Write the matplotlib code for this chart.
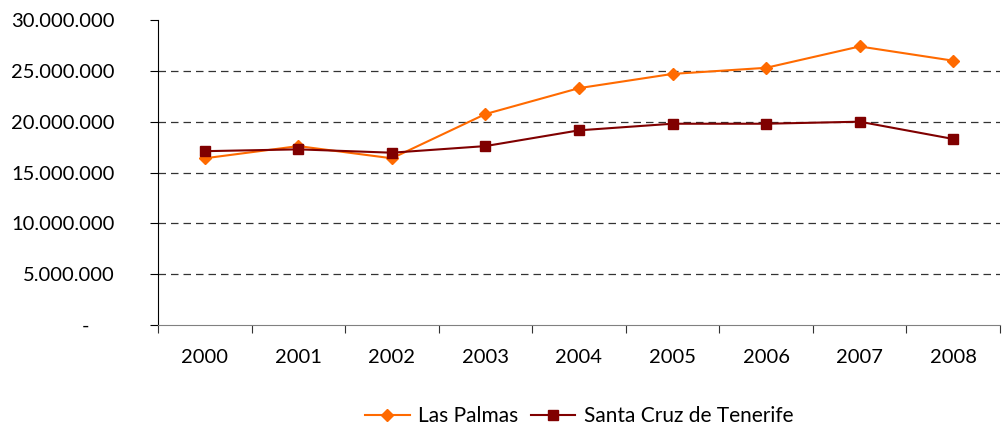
import numpy as np
import matplotlib.pyplot as plt
from matplotlib.ticker import FuncFormatter, FixedLocator

plt.rcParams['font.family'] = ['Lato', 'DejaVu Sans']

years = ['2000', '2001', '2002', '2003', '2004', '2005', '2006', '2007', '2008']
las_palmas = [16.4e6, 17.6e6, 16.4e6, 20.75e6, 23.3e6, 24.7e6, 25.3e6, 27.4e6, 26.0e6]
santa_cruz = [17.1e6, 17.28e6, 16.95e6, 17.6e6, 19.15e6, 19.8e6, 19.8e6, 20.0e6, 18.3e6]

def fmt(v, pos):
    if v == 0:
        return '-' + ' ' * 5
    return '{:,.0f}'.format(v).replace(',', '.')

fig = plt.figure(figsize=(10.03, 4.26), dpi=100)
ax = fig.add_axes([0.1575, 0.237, 0.997 - 0.1575, 0.953 - 0.237])

x = np.arange(len(years))
ax.plot(x, las_palmas, color='#FF6A00', marker='D', markersize=6, lw=1.5, label='Las Palmas')
ax.plot(x, santa_cruz, color='#800000', marker='s', markersize=7, lw=1.5, label='Santa Cruz de Tenerife')

ax.set_xlim(-0.5, len(years) - 0.5)
ax.set_ylim(0, 30e6)
ax.set_yticks(np.arange(0, 30e6 + 1, 5e6))
ax.yaxis.set_major_formatter(FuncFormatter(fmt))
for yv in np.arange(5e6, 30e6, 5e6):
    ax.axhline(yv, color='#333333', lw=0.9, ls=(0, (6, 4)), zorder=0)

ax.xaxis.set_major_locator(FixedLocator(np.arange(-0.5, len(years), 1.0)))
ax.xaxis.set_minor_locator(FixedLocator(x))
ax.set_xticklabels([], minor=False)
ax.set_xticklabels(years, minor=True)
ax.tick_params(axis='x', which='major', length=6, color='#333333')
ax.tick_params(axis='x', which='minor', length=0, pad=17, labelsize=14.5)
ax.tick_params(axis='y', length=6, labelsize=14.5, pad=25)

for s in ['top', 'right']:
    ax.spines[s].set_visible(False)
ax.spines['left'].set_color('black')
ax.spines['bottom'].set_color('#808080')

ax.legend(loc='upper center', bbox_to_anchor=(0.5, -0.205), ncol=2, frameon=False,
          fontsize=15, handlelength=2.15, columnspacing=0.6, handletextpad=0.4)

fig.savefig('out.png', dpi=100)
